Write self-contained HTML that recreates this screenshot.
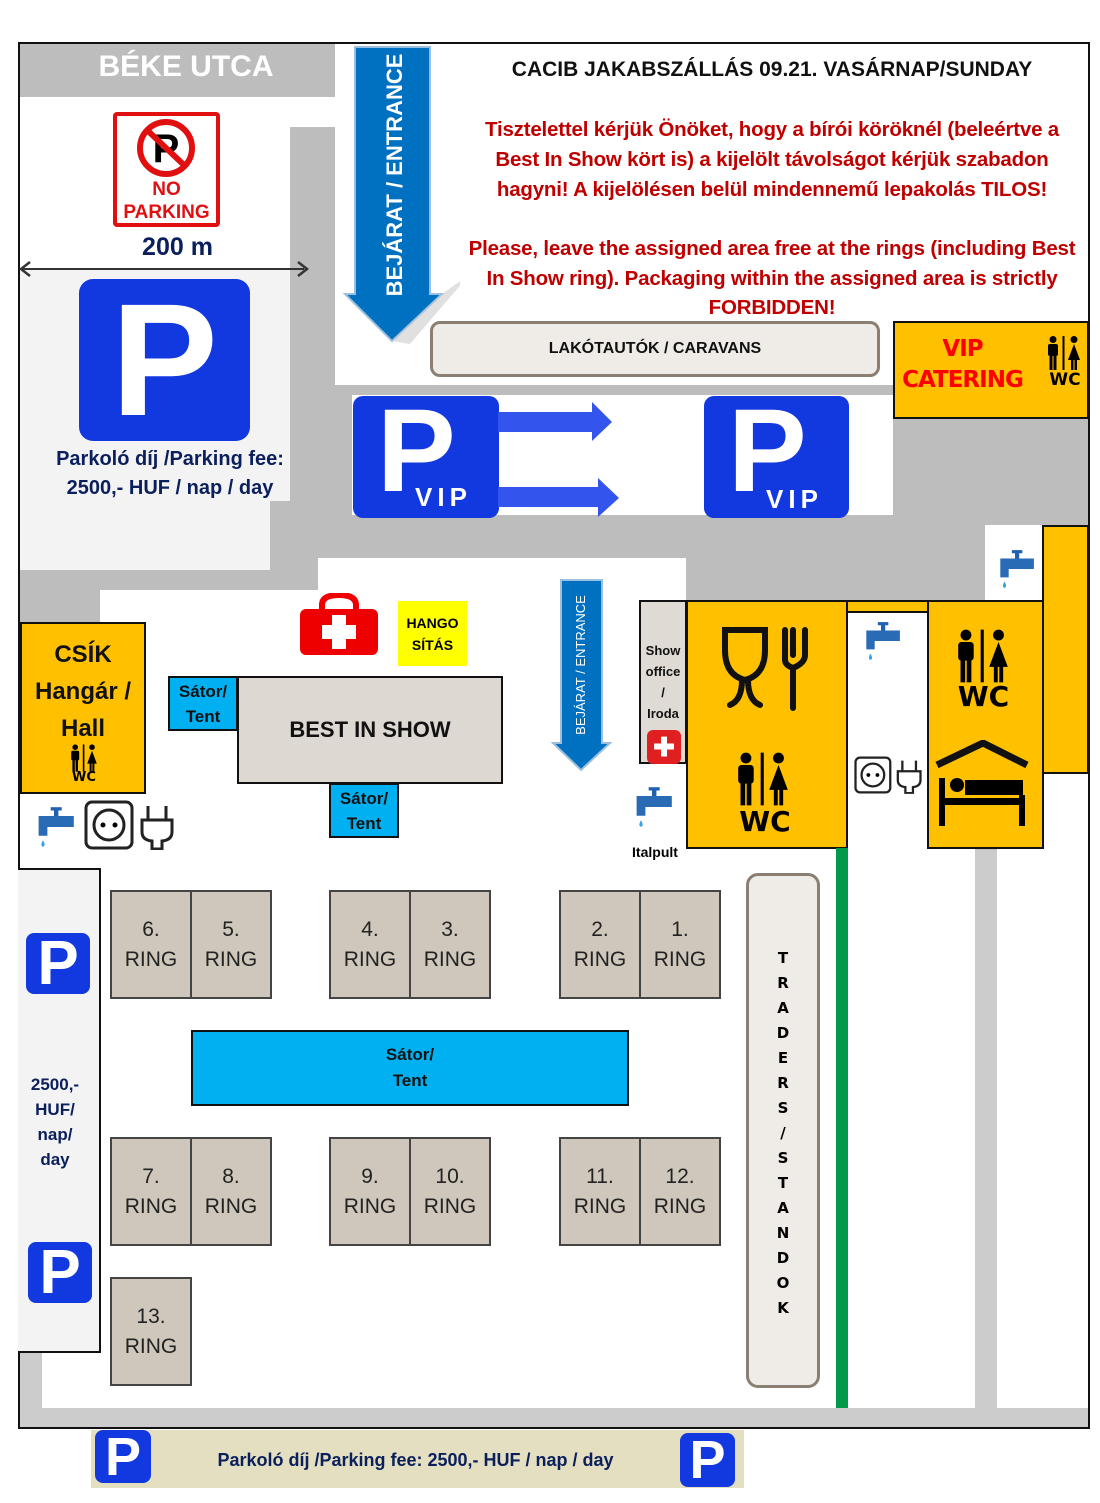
<!DOCTYPE html>
<html><head><meta charset="utf-8"><style>
body{margin:0;width:1100px;height:1503px;background:#fff;position:relative;overflow:hidden;font-family:"Liberation Sans",sans-serif}
div{position:absolute;box-sizing:border-box}
.c{display:flex;align-items:center;justify-content:center;text-align:center}
.w{background:#fff}
.ring{background:#cfc7bb;border:2px solid #444;font-size:21px;color:#222;line-height:30px;display:flex;align-items:center;justify-content:center;text-align:center}
.tent{background:#00b0f0;border:2px solid #111;font-weight:bold;color:#111;font-size:17px;line-height:25px}
.p{background:#1238e0;border-radius:8px;color:#fff;font-weight:bold}
.red{color:#c00000;font-weight:bold;font-size:20.5px;width:660px;left:442px;text-align:center;letter-spacing:-0.2px}
.navy{color:#0a1f5c;font-weight:bold}
svg{position:absolute}
</style></head><body>
<svg width="0" height="0" style="position:absolute"><defs>
<symbol id="fig" viewBox="0 0 40 34"><circle cx="9" cy="3.5" r="3.5"/><rect x="4" y="8" width="10" height="12" rx="2"/><rect x="5.5" y="19" width="3" height="15"/><rect x="9.5" y="19" width="3" height="15"/><rect x="18.5" y="0" width="2" height="34"/><circle cx="30" cy="3.5" r="3.5"/><polygon points="30,8 24,24 36,24"/><rect x="27" y="23" width="2.5" height="11"/><rect x="30.5" y="23" width="2.5" height="11"/></symbol>
<symbol id="tap" viewBox="0 0 40 40"><rect x="17" y="2" width="10" height="3" fill="#2060b0"/><rect x="20" y="4" width="4" height="6" fill="#2060b0"/><path d="M6 10h32v10H14v8H6z" fill="#2a6bb5"/><path d="M10 32 q-3 5 0 6 q3-1 0-6z" fill="#3aa0e0"/></symbol>
<symbol id="sock" viewBox="0 0 90 50"><rect x="2" y="2" width="46" height="46" rx="6" fill="#fff" stroke="#222" stroke-width="3"/><circle cx="25" cy="25" r="15" fill="none" stroke="#222" stroke-width="3"/><circle cx="19" cy="25" r="2.5"/><circle cx="31" cy="25" r="2.5"/><path d="M58 20h30v12q0 8-10 9v8h-10v-8q-10-1-10-9z M64 6v14 M82 6v14" fill="#fff" stroke="#222" stroke-width="3"/></symbol>
</defs></svg>

<!-- frame -->
<div style="left:18px;top:42px;width:1072px;height:1387px;border:2px solid #111;background:#bdbdbd"></div>
<div style="left:20px;top:1350px;width:1068px;height:77px;background:#cccccc"></div>
<div class="w" style="left:20px;top:97px;width:270px;height:172px"></div>
<div style="left:20px;top:269px;width:270px;height:232px;background:#f3f3f3"></div>
<div style="left:20px;top:500px;width:250px;height:70px;background:#f3f3f3"></div>
<div class="w" style="left:290px;top:97px;width:50px;height:30px"></div>
<div class="w" style="left:335px;top:44px;width:753px;height:341px"></div>
<div class="w" style="left:352px;top:395px;width:541px;height:120px"></div>
<div class="w" style="left:318px;top:558px;width:368px;height:50px"></div>
<div class="w" style="left:100px;top:590px;width:586px;height:220px"></div>
<div class="w" style="left:20px;top:790px;width:666px;height:80px"></div>
<div class="w" style="left:42px;top:800px;width:933px;height:608px"></div>
<div class="w" style="left:848px;top:600px;width:127px;height:808px"></div>
<div class="w" style="left:997px;top:770px;width:91px;height:638px"></div>
<div class="w" style="left:985px;top:525px;width:58px;height:80px"></div>
<div style="left:975px;top:850px;width:22px;height:558px;background:#cccccc"></div>

<!-- top left -->
<div style="left:20px;top:50px;width:332px;font-size:30px;font-weight:bold;color:#fff;text-align:center">BÉKE UTCA</div>
<div style="left:113px;top:112px;width:107px;height:115px;border:4px solid #e01010;border-radius:4px;background:#fff"></div>
<svg style="left:133px;top:117px" width="67" height="62" viewBox="0 0 67 62"><circle cx="33" cy="31" r="26" fill="#fff" stroke="#e01010" stroke-width="6"/><text x="33" y="45" font-family="Liberation Sans" font-weight="bold" font-size="40" text-anchor="middle">P</text><line x1="14" y1="13" x2="52" y2="49" stroke="#e01010" stroke-width="6"/></svg>
<div style="left:113px;top:178px;width:107px;text-align:center;color:#e01010;font-weight:bold;font-size:19px;line-height:23px">NO<br>PARKING</div>
<div class="navy" style="left:120px;top:233px;width:115px;text-align:center;font-size:25px;color:#0a1f5c">200 m</div>
<svg style="left:18px;top:258px" width="292" height="22"><line x1="4" y1="11" x2="286" y2="11" stroke="#333" stroke-width="2"/><path d="M12 4L3 11L12 18M280 4L289 11L280 18" fill="none" stroke="#333" stroke-width="2.5"/></svg>
<div class="p c" style="left:79px;top:279px;width:171px;height:162px;border-radius:14px;font-size:160px;line-height:162px">P</div>
<div class="navy" style="left:40px;top:445px;width:260px;text-align:center;font-size:20px;line-height:29px">Parkoló díj /Parking fee:<br>2500,- HUF / nap / day</div>

<!-- entrance arrow -->
<svg style="left:330px;top:44px" width="130" height="310"><polygon points="25,3 100,3 100,250 112,250 62,297 15,250 25,250" fill="#0070c0" stroke="#9bbfdc" stroke-width="2"/><polygon points="112,250 140,230 80,300 62,297" fill="#ccc" opacity=".6"/></svg>
<div style="left:265px;top:160px;width:260px;height:30px;transform:rotate(-90deg);color:#fff;font-weight:bold;font-size:22px;text-align:center;line-height:30px">BEJÁRAT / ENTRANCE</div>

<!-- text -->
<div style="left:442px;top:58px;width:660px;text-align:center;font-size:21px;font-weight:bold;color:#111">CACIB JAKABSZÁLLÁS 09.21. VASÁRNAP/SUNDAY</div>
<div class="red" style="top:115px;line-height:30px">Tisztelettel kérjük Önöket, hogy a bírói köröknél (beleértve a<br>Best In Show kört is) a kijelölt távolságot kérjük szabadon<br>hagyni! A kijelölésen belül mindennemű lepakolás TILOS!</div>
<div class="red" style="top:234px;line-height:29.5px">Please, leave the assigned area free at the rings (including Best<br>In Show ring). Packaging within the assigned area is strictly<br>FORBIDDEN!</div>
<div class="c" style="left:430px;top:321px;width:450px;height:56px;background:#efece8;border:3px solid #8a7f72;border-radius:10px;font-size:16px;font-weight:bold;color:#111">LAKÓTAUTÓK / CARAVANS</div>

<!-- VIP catering -->
<div style="left:893px;top:321px;width:196px;height:98px;background:#ffc000;border:2px solid #111"></div>
<div style="left:895px;top:334px;width:135px;text-align:center;color:#f00;font-weight:900;font-size:23px;line-height:31px;font-family:'DejaVu Sans',sans-serif;letter-spacing:-1px">VIP<br>CATERING</div>
<svg style="left:1044px;top:336px" width="40" height="34"><use href="#fig"/></svg>
<div style="left:1040px;top:370px;width:50px;text-align:center;font-weight:900;font-size:17px;font-family:'DejaVu Sans',sans-serif">WC</div>

<!-- VIP parking -->
<div class="p" style="left:353px;top:396px;width:146px;height:122px;border-radius:10px"><div style="left:24px;top:0px;font-size:118px;line-height:110px">P</div><div style="left:62px;top:86px;font-size:26px;letter-spacing:5px">VIP</div></div>
<div class="p" style="left:704px;top:396px;width:145px;height:122px;border-radius:10px"><div style="left:24px;top:0px;font-size:118px;line-height:110px">P</div><div style="left:62px;top:88px;font-size:26px;letter-spacing:5px">VIP</div></div>
<svg style="left:498px;top:400px" width="125" height="120"><polygon points="0,12 94,12 94,2 114,22 94,41 94,32 0,32" fill="#3355ee"/><polygon points="0,87 100,87 100,78 121,98 100,117 100,107 0,107" fill="#3355ee"/></svg>

<!-- first aid + hangositas -->
<svg style="left:300px;top:593px" width="78" height="63"><path d="M22 16 v-4 q0-10 17-10 q17 0 17 10 v4" fill="none" stroke="#e00" stroke-width="6"/><rect x="0" y="16" width="78" height="46" rx="6" fill="#e00"/><rect x="32" y="22" width="14" height="34" fill="#fff"/><rect x="22" y="32" width="34" height="14" fill="#fff"/></svg>
<div class="c" style="left:398px;top:601px;width:69px;height:65px;background:#ffff00;font-weight:bold;font-size:14px;line-height:22px">HANGO<br>SÍTÁS</div>

<!-- hall -->
<div style="left:20px;top:622px;width:126px;height:172px;background:#ffc000;border:2px solid #111"></div>
<div style="left:20px;top:636px;width:126px;text-align:center;font-weight:bold;font-size:24px;line-height:37px;color:#111">CSÍK<br>Hangár /<br>Hall</div>
<svg style="left:68px;top:744px" width="32" height="28"><use href="#fig"/></svg>
<div style="left:60px;top:771px;width:48px;text-align:center;font-weight:900;font-size:13px;font-family:'DejaVu Sans',sans-serif;line-height:13px">WC</div>
<svg style="left:32px;top:805px" width="44" height="44"><use href="#tap"/></svg>
<svg style="left:84px;top:800px" width="90" height="50"><use href="#sock"/></svg>

<!-- best in show -->
<div class="tent c" style="left:168px;top:676px;width:70px;height:55px">Sátor/<br>Tent</div>
<div class="c" style="left:237px;top:676px;width:266px;height:108px;background:#ded8d2;border:2px solid #111;font-size:22px;font-weight:bold;color:#111">BEST IN SHOW</div>
<div class="tent c" style="left:329px;top:783px;width:70px;height:55px">Sátor/<br>Tent</div>

<!-- small entrance arrow -->
<svg style="left:550px;top:578px" width="64" height="195"><polygon points="11,2 52,2 52,165 60,165 31,192 3,165 11,165" fill="#0070c0" stroke="#9bbfdc" stroke-width="2"/></svg>
<div style="left:506px;top:655px;width:150px;height:20px;transform:rotate(-90deg);color:#fff;font-size:13px;text-align:center;line-height:20px">BEJÁRAT / ENTRANCE</div>

<!-- show office -->
<div style="left:639px;top:600px;width:48px;height:164px;background:#e0dad4;border:2px solid #111"></div>
<div style="left:639px;top:640px;width:48px;text-align:center;font-weight:bold;font-size:13px;line-height:21px;color:#111">Show<br>office<br>/<br>Iroda</div>
<div class="c" style="left:647px;top:730px;width:34px;height:34px;background:#e02020;border-radius:6px;color:#fff;font-size:26px;font-weight:bold">✚</div>
<svg style="left:630px;top:785px" width="44" height="44"><use href="#tap"/></svg>
<div style="left:620px;top:844px;width:70px;text-align:center;font-weight:bold;font-size:14px">Italpult</div>

<!-- food / wc -->
<div style="left:686px;top:600px;width:162px;height:249px;background:#ffc000;border:2px solid #111"></div>
<svg style="left:720px;top:625px" width="95" height="90" viewBox="0 0 95 90" fill="none" stroke="#111" stroke-width="6" stroke-linecap="round"><path d="M5 5h40v20q0 25-20 30q-20-5-20-30z"/><path d="M22 55q0 20-12 25M28 55q0 20 12 25"/><path d="M65 5v30q0 5 8 8v40M73 5v25M85 5v25q0 8-12 13"/></svg>
<svg style="left:732px;top:748px" width="62" height="62"><use href="#fig"/></svg>
<div style="left:700px;top:806px;width:130px;text-align:center;font-weight:900;font-size:28px;font-family:'DejaVu Sans',sans-serif;line-height:32px">WC</div>
<div style="left:846px;top:600px;width:83px;height:13px;background:#ffc000;border:2px solid #111"></div>
<div style="left:927px;top:600px;width:117px;height:249px;background:#ffc000;border:2px solid #111"></div>
<svg style="left:952px;top:625px" width="62" height="62"><use href="#fig"/></svg>
<div style="left:925px;top:680px;width:117px;text-align:center;font-weight:900;font-size:28px;font-family:'DejaVu Sans',sans-serif;line-height:34px">WC</div>
<svg style="left:935px;top:740px" width="95" height="90" viewBox="0 0 95 90"><path d="M2 25L48 3L92 25" fill="none" stroke="#111" stroke-width="7"/><rect x="4" y="38" width="6" height="48"/><circle cx="22" cy="45" r="7"/><path d="M30 40h58v15H30z"/><rect x="4" y="58" width="86" height="7"/><rect x="84" y="55" width="6" height="31"/></svg>
<div style="left:1042px;top:525px;width:47px;height:249px;background:#ffc000;border:2px solid #111"></div>
<svg style="left:994px;top:548px" width="42" height="42"><use href="#tap"/></svg>
<svg style="left:860px;top:620px" width="42" height="42"><use href="#tap"/></svg>
<svg style="left:854px;top:756px" width="68" height="38" viewBox="0 0 90 50"><use href="#sock"/></svg>
<div style="left:836px;top:848px;width:12px;height:560px;background:#00994c"></div>

<!-- traders -->
<div style="left:746px;top:873px;width:74px;height:515px;background:#efece8;border:3px solid #8a7f72;border-radius:12px"></div>
<div style="left:746px;top:946px;width:74px;text-align:center;font-weight:900;font-size:15px;line-height:25px;font-family:'DejaVu Sans',sans-serif">T<br>R<br>A<br>D<br>E<br>R<br>S<br>/<br>S<br>T<br>A<br>N<br>D<br>O<br>K</div>

<!-- rings -->
<div class="ring" style="left:110px;top:890px;width:82px;height:109px">6.<br>RING</div>
<div class="ring" style="left:190px;top:890px;width:82px;height:109px">5.<br>RING</div>
<div class="ring" style="left:329px;top:890px;width:82px;height:109px">4.<br>RING</div>
<div class="ring" style="left:409px;top:890px;width:82px;height:109px">3.<br>RING</div>
<div class="ring" style="left:559px;top:890px;width:82px;height:109px">2.<br>RING</div>
<div class="ring" style="left:639px;top:890px;width:82px;height:109px">1.<br>RING</div>
<div class="tent c" style="left:191px;top:1030px;width:438px;height:76px;font-size:17px;line-height:26px">Sátor/<br>Tent</div>
<div class="ring" style="left:110px;top:1137px;width:82px;height:109px">7.<br>RING</div>
<div class="ring" style="left:190px;top:1137px;width:82px;height:109px">8.<br>RING</div>
<div class="ring" style="left:329px;top:1137px;width:82px;height:109px">9.<br>RING</div>
<div class="ring" style="left:409px;top:1137px;width:82px;height:109px">10.<br>RING</div>
<div class="ring" style="left:559px;top:1137px;width:82px;height:109px">11.<br>RING</div>
<div class="ring" style="left:639px;top:1137px;width:82px;height:109px">12.<br>RING</div>
<div class="ring" style="left:110px;top:1277px;width:82px;height:109px">13.<br>RING</div>

<!-- left parking -->
<div style="left:18px;top:868px;width:83px;height:485px;background:#f3f3f3;border:2px solid #111;border-left:none"></div>
<div class="p c" style="left:26px;top:933px;width:64px;height:61px;font-size:62px">P</div>
<div class="p c" style="left:28px;top:1242px;width:64px;height:61px;font-size:62px">P</div>
<div class="navy" style="left:20px;top:1072px;width:70px;text-align:center;font-size:17px;line-height:25px">2500,-<br>HUF/<br>nap/<br>day</div>

<!-- bottom band -->
<div style="left:91px;top:1430px;width:653px;height:58px;background:#e3dfc0"></div>
<div class="p c" style="left:95px;top:1430px;width:56px;height:53px;font-size:54px">P</div>
<div class="p c" style="left:680px;top:1433px;width:55px;height:54px;font-size:54px">P</div>
<div class="navy" style="left:151px;top:1450px;width:529px;text-align:center;font-size:18px">Parkoló díj /Parking fee: 2500,- HUF / nap / day</div>
</body></html>
